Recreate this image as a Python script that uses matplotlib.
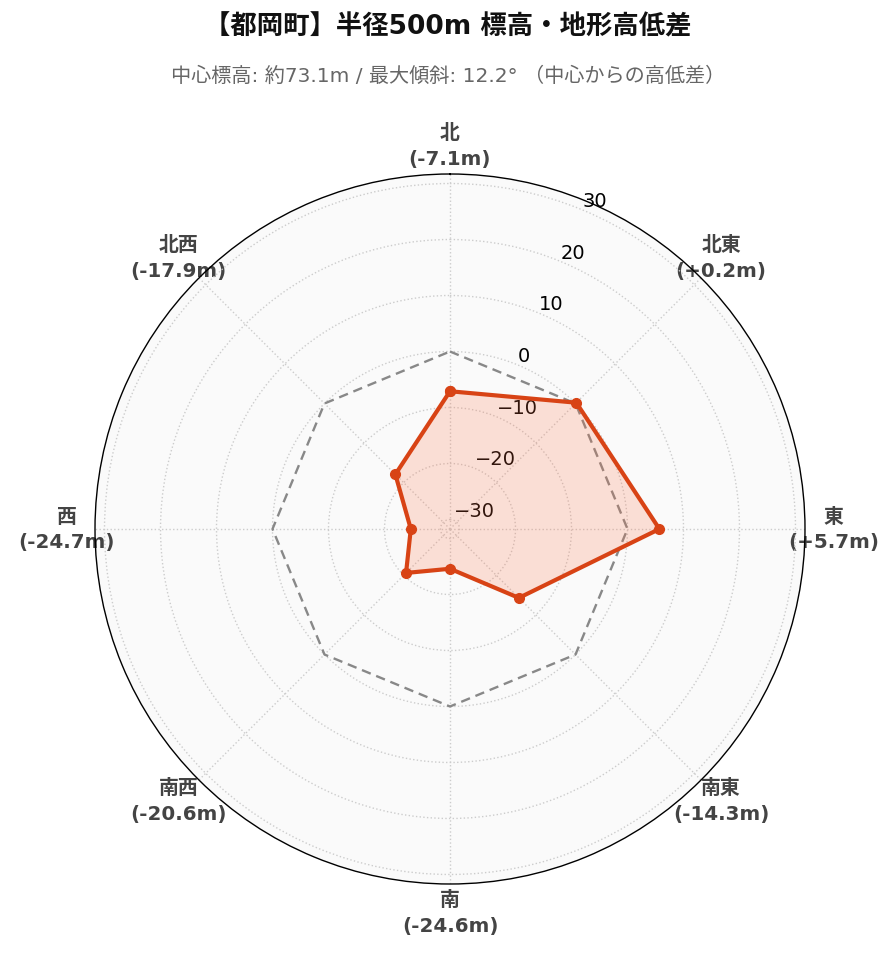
import numpy as np
import matplotlib
matplotlib.use("Agg")
import matplotlib.pyplot as plt

plt.rcParams['font.family'] = ['DejaVu Sans', 'Noto Sans CJK JP']

# data
directions = ['北', '北東', '東', '南東', '南', '南西', '西', '北西']
diffs = [-7.1, 0.2, 5.7, -14.3, -24.6, -20.6, -24.7, -17.9]
r_ticks = [-30, -20, -10, 0, 10, 20, 30]
title = '【都岡町】半径500m 標高・地形高低差'
subtitle = '中心標高: 約73.1m / 最大傾斜: 12.2° （中心からの高低差）'

lim = max(abs(v) for v in diffs) + 7

angles = np.linspace(0, 2 * np.pi, len(directions), endpoint=False)
ang_closed = np.append(angles, angles[0])
val_closed = np.append(diffs, diffs[0])

fig = plt.figure(figsize=(8.96, 9.62), dpi=100)
ax = fig.add_axes([95 / 896, 77 / 962, 710 / 896, 710 / 962], projection='polar')
ax.set_theta_zero_location('N')
ax.set_theta_direction(-1)
ax.set_facecolor('#fafafa')

# zero reference
ax.plot(ang_closed, np.zeros_like(ang_closed), color='#888888', lw=1.7,
        ls=(0, (4, 2.5)), zorder=2)

ax.fill(ang_closed, val_closed, color='#ff7043', alpha=0.2, lw=0, zorder=3)
ax.plot(ang_closed, val_closed, color='#d84315', lw=3.0, marker='o',
        markersize=7, zorder=4)

ax.set_ylim(-lim, lim)
ax.set_yticks(r_ticks)
ax.set_rlabel_position(22.5)
ax.tick_params(axis='y', labelsize=14, labelcolor='black')

ax.set_xticks(angles)
ax.set_xticklabels([f'{d}\n({v:+.1f}m)' if v > 0 else f'{d}\n({v:.1f}m)'
                    for d, v in zip(directions, diffs)],
                   fontsize=14.3, fontweight='bold', color='#444444', linespacing=1.45)
ax.tick_params(axis='x', pad=10)

ax.grid(True, color='#cccccc', ls=':', lw=1.0)
ax.spines['polar'].set_color('black')
ax.spines['polar'].set_linewidth(1.0)

fig.text(0.5, 1 - 27 / 962, title, ha='center', va='center',
         fontsize=19, fontweight='bold', color='#111111')
fig.text(0.5, 1 - 76 / 962, subtitle, ha='center', va='center',
         fontsize=14.5, color='#666666')

fig.savefig('out.png', dpi=100, facecolor='white')
